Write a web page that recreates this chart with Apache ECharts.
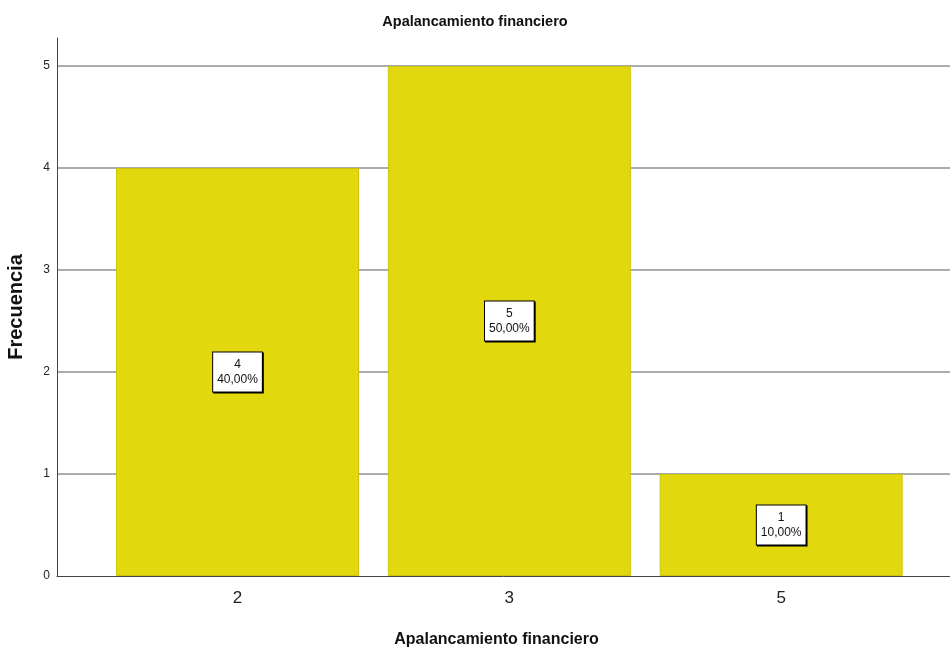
<!DOCTYPE html>
<html>
<head>
<meta charset="utf-8">
<script src="https://cdn.jsdelivr.net/npm/echarts@6/dist/echarts.min.js"></script>
<style>
  html, body { margin: 0; padding: 0; background: #fff; }
  #main { width: 950px; height: 653px; }
</style>
</head>
<body>
<div id="main"></div>
<script>
// datos
var categorias = ['2', '3', '5'];
var frecuencias = [4, 5, 1];
var porcentajes = ['40,00%', '50,00%', '10,00%'];
var yTicks = [0, 1, 2, 3, 4, 5];

var fuente = "'Liberation Sans', Arial, sans-serif";
var chart = echarts.init(document.getElementById('main'));

var datosBarras = [];
for (var i = 0; i < categorias.length; i++) {
  datosBarras.push([i, frecuencias[i]]);
}

var option = {
  backgroundColor: '#ffffff',
  animation: false,
  title: {
    text: 'Apalancamiento financiero',
    left: 'center',
    top: 9,
    textStyle: { fontFamily: fuente, fontSize: 14.5, fontWeight: 'bold', color: '#111' }
  },
  grid: { left: 57, right: 0, top: 38, bottom: 77, containLabel: false, outerBoundsMode: 'none' },
  xAxis: {
    type: 'value',
    min: -0.664,
    max: 2.621,
    name: 'Apalancamiento financiero',
    nameLocation: 'middle',
    nameGap: 56,
    nameTextStyle: { fontFamily: fuente, fontSize: 16, fontWeight: 'bold', color: '#111', padding: [0, 14, 0, 0] },
    axisLine: { show: true, lineStyle: { color: '#444', width: 1 } },
    axisTick: { show: false },
    splitLine: { show: false },
    axisLabel: {
      customValues: [0, 1, 2],
      formatter: function (v) { return categorias[Math.round(v)]; },
      margin: 14,
      fontFamily: fuente,
      fontSize: 17,
      color: '#222'
    }
  },
  yAxis: {
    type: 'value',
    min: 0,
    max: 5.275,
    interval: 1,
    name: 'Frecuencia',
    nameLocation: 'middle',
    nameGap: 31,
    nameTextStyle: { fontFamily: fuente, fontSize: 20, fontWeight: 'bold', color: '#111' },
    axisLine: { show: true, onZero: false, lineStyle: { color: '#444', width: 1 } },
    axisTick: { show: false },
    splitLine: {
      show: true,
      showMaxLine: false,
      showMinLine: false,
      lineStyle: { color: '#ababab', width: 2 }
    },
    axisLabel: {
      margin: 7,
      fontFamily: fuente,
      fontSize: 12,
      color: '#222',
      formatter: function (v) {
        return yTicks.indexOf(v) >= 0 ? String(v) : '';
      }
    }
  },
  series: [{
    type: 'bar',
    data: datosBarras,
    barWidth: 243,
    itemStyle: { color: '#e2d80e', borderColor: '#cfc40a', borderWidth: 1 },
    label: {
      show: true,
      position: 'inside',
      formatter: function (p) {
        return frecuencias[p.dataIndex] + '\n' + porcentajes[p.dataIndex];
      },
      fontFamily: fuente,
      fontSize: 12,
      lineHeight: 15,
      color: '#111',
      backgroundColor: '#fff',
      borderColor: '#000',
      borderWidth: 1,
      padding: [5, 4, 4, 4],
      shadowColor: '#000',
      shadowOffsetX: 1,
      shadowOffsetY: 1,
      shadowBlur: 0
    }
  }]
};

chart.setOption(option);
</script>
</body>
</html>
